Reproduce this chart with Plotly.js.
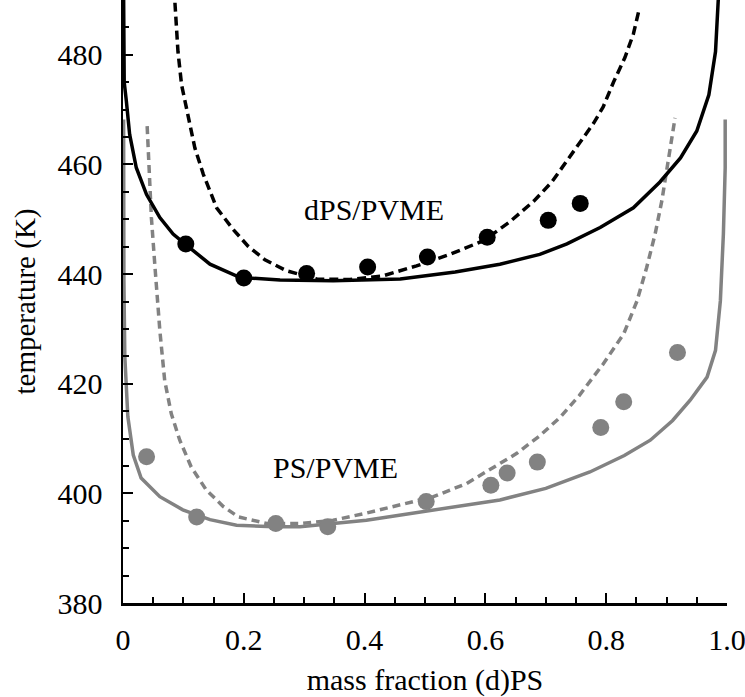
<!DOCTYPE html>
<html>
<head>
<meta charset="utf-8">
<script src="https://cdn.plot.ly/plotly-3.0.1.min.js"></script>
<style>html,body{margin:0;padding:0;background:#fff;}#chart{width:745px;height:697px;}</style>
</head>
<body>
<div id="chart"></div>
<script>
// dPS/PVME measured cloud points
const dpsX = [0.104, 0.200, 0.304, 0.405, 0.504, 0.603, 0.704, 0.757];
const dpsY = [445.5, 439.3, 440.1, 441.3, 443.1, 446.7, 449.8, 452.9];
// PS/PVME measured cloud points
const psX = [0.039, 0.122, 0.253, 0.339, 0.502, 0.609, 0.636, 0.686, 0.791, 0.829, 0.918];
const psY = [406.7, 395.7, 394.5, 393.9, 398.5, 401.5, 403.7, 405.7, 412.0, 416.7, 425.7];

// dPS/PVME binodal (solid black)
const dpsBinX = [0.001, 0.002, 0.0056, 0.011, 0.022, 0.039, 0.061, 0.083, 0.105, 0.144, 0.193, 0.26, 0.348, 0.459, 0.55, 0.624, 0.69, 0.735, 0.79, 0.818, 0.845, 0.889, 0.923, 0.950, 0.970, 0.981, 0.986];
const dpsBinY = [491, 475, 471.5, 465.5, 459.4, 454.5, 450.3, 447.3, 445.3, 441.8, 439.4, 438.9, 438.8, 439.1, 440.4, 441.8, 443.6, 445.5, 448.5, 450.3, 452.1, 456.8, 461.2, 466.1, 472.7, 480.6, 491];
// dPS/PVME spinodal (dashed black)
const dpsSpX = [0.086, 0.091, 0.097, 0.108, 0.119, 0.133, 0.155, 0.182, 0.207, 0.235, 0.271, 0.321, 0.376, 0.431, 0.486, 0.541, 0.597, 0.640, 0.680, 0.710, 0.735, 0.758, 0.779, 0.795, 0.812, 0.831, 0.845, 0.855];
const dpsSpY = [489.5, 480.6, 474.5, 468.5, 463.0, 458.2, 452.1, 448.2, 445.1, 442.6, 440.6, 439.1, 439.0, 439.7, 441.5, 443.6, 446.1, 449.5, 453.3, 456.8, 460.6, 464.3, 467.5, 470.5, 475.0, 479.5, 483.8, 488.5];

// PS/PVME binodal (solid grey)
const psBinX = [0.001, 0.001, 0.0015, 0.003, 0.008, 0.017, 0.030, 0.061, 0.099, 0.144, 0.188, 0.250, 0.293, 0.403, 0.514, 0.624, 0.700, 0.773, 0.830, 0.873, 0.910, 0.939, 0.967, 0.981, 0.989, 0.994, 0.997, 0.997];
const psBinY = [468.2, 450.0, 438.8, 425.0, 414.0, 407.0, 402.8, 399.4, 397.0, 395.2, 394.2, 393.9, 393.9, 395.1, 397.0, 398.8, 400.9, 403.9, 406.9, 409.7, 413.3, 417.0, 421.2, 426.1, 435.1, 447.3, 459.4, 468.2];
// PS/PVME spinodal (dashed grey)
const psSpX = [0.040, 0.043, 0.047, 0.053, 0.057, 0.061, 0.069, 0.080, 0.094, 0.113, 0.138, 0.166, 0.191, 0.238, 0.293, 0.348, 0.403, 0.459, 0.514, 0.569, 0.624, 0.652, 0.690, 0.724, 0.755, 0.795, 0.829, 0.851, 0.867, 0.881, 0.892, 0.901, 0.909, 0.914];
const psSpY = [467.0, 459.4, 450.3, 441.2, 435.0, 429.7, 420.6, 414.5, 409.7, 404.8, 400.6, 397.6, 395.7, 394.5, 394.5, 395.1, 396.4, 397.9, 399.4, 401.8, 405.5, 407.3, 410.5, 413.9, 417.8, 423.6, 429.1, 435.1, 441.2, 447.3, 453.3, 459.4, 464.2, 468.5];

const xTickVals = [0, 0.2, 0.4, 0.6, 0.8, 1.0];
const xTickText = ['0', '0.2', '0.4', '0.6', '0.8', '1.0'];
const yTickVals = [380, 400, 420, 440, 460, 480];

const black = '#000000';
const grey = '#828282';
const serif = 'Liberation Serif, Times New Roman, serif';
const fs = 30;

const traces = [
  {x: psBinX, y: psBinY, mode: 'lines', line: {color: grey, width: 3.5}, name: 'PS/PVME binodal'},
  {x: psSpX, y: psSpY, mode: 'lines', line: {color: grey, width: 3.5, dash: '8px,5px'}, name: 'PS/PVME spinodal'},
  {x: psX, y: psY, mode: 'markers', marker: {color: grey, size: 17}, name: 'PS/PVME'},
  {x: dpsBinX, y: dpsBinY, mode: 'lines', line: {color: black, width: 3.5}, name: 'dPS/PVME binodal'},
  {x: dpsSpX, y: dpsSpY, mode: 'lines', line: {color: black, width: 3.5, dash: '9px,5px'}, name: 'dPS/PVME spinodal'},
  {x: dpsX, y: dpsY, mode: 'markers', marker: {color: black, size: 17}, name: 'dPS/PVME'}
];

const layout = {
  width: 745, height: 697,
  margin: {l: 123, r: 18, t: 0, b: 94},
  paper_bgcolor: '#ffffff', plot_bgcolor: '#ffffff',
  showlegend: false,
  font: {family: serif, color: black, size: fs},
  xaxis: {
    range: [0, 1.0], tickvals: xTickVals, ticktext: xTickText,
    ticks: 'inside', ticklen: 10, tickwidth: 2, tickcolor: black,
    minor: {dtick: 0.05, ticks: 'inside', ticklen: 6, tickwidth: 2, tickcolor: black, showgrid: false},
    showline: true, linecolor: black, linewidth: 2.5, showgrid: false, zeroline: false,
    tickfont: {family: serif, size: fs, color: black},
    ticklabelstandoff: 8,
    ticklabeloverflow: 'allow',
    title: {text: 'mass fraction (d)PS', font: {family: serif, size: fs, color: black}, standoff: 18}
  },
  yaxis: {
    range: [380, 490], tickvals: yTickVals,
    ticks: 'inside', ticklen: 10, tickwidth: 2, tickcolor: black,
    minor: {dtick: 5, ticks: 'inside', ticklen: 6, tickwidth: 2, tickcolor: black, showgrid: false},
    showline: true, linecolor: black, linewidth: 2.5, showgrid: false, zeroline: false,
    tickfont: {family: serif, size: fs, color: black},
    ticklabelstandoff: 12,
    ticklabeloverflow: 'allow',
    title: {text: 'temperature (K)', font: {family: serif, size: 29, color: black}, standoff: 14}
  },
  annotations: [
    {x: 0.4155, y: 451.8, xref: 'x', yref: 'y', text: 'dPS/PVME', showarrow: false, font: {family: serif, size: fs, color: black}},
    {x: 0.351, y: 404.8, xref: 'x', yref: 'y', text: 'PS/PVME', showarrow: false, font: {family: serif, size: fs, color: black}}
  ]
};

Plotly.newPlot('chart', traces, layout, {displayModeBar: false, staticPlot: true});
</script>
</body>
</html>
